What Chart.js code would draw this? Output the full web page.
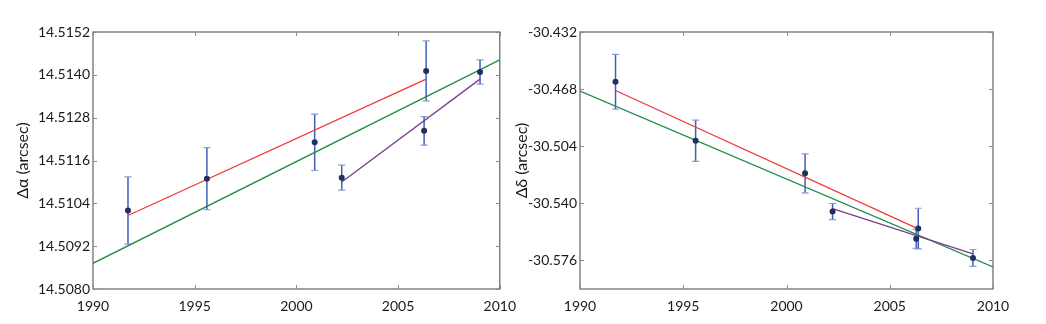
<!DOCTYPE html>
<html>
<head>
<meta charset="utf-8">
<script src="https://cdn.jsdelivr.net/npm/chart.js@4.4.0/dist/chart.umd.min.js"></script>
<style>
  html, body { margin: 0; padding: 0; background: #ffffff; }
  body { width: 1046px; height: 324px; position: relative; overflow: hidden; }
  .box { position: absolute; top: 0; height: 324px; }
  #leftBox { left: 0; width: 525px; }
  #rightBox { left: 505px; width: 541px; }
</style>
</head>
<body>
<div class="box" id="leftBox"><canvas id="raChart"></canvas></div>
<div class="box" id="rightBox"><canvas id="decChart"></canvas></div>
<script>
// ---- Data ----
const epochs      = [1991.72, 1995.60, 2000.90, 2002.23, 2006.28, 2006.38, 2009.03];
const raValues    = [14.51020, 14.51109, 14.51211, 14.51112, 14.51243, 14.51411, 14.51408];
const raErrors    = [0.00094, 0.00087, 0.00079, 0.00035, 0.00040, 0.00084, 0.00034];
const decValues   = [-30.4634, -30.5005, -30.5211, -30.5452, -30.5624, -30.5559, -30.5744];
const decErrors   = [0.0173, 0.0130, 0.0123, 0.0051, 0.0060, 0.0128, 0.0053];

const fitAllYears   = [1990, 2010];
const fitEarlyYears = [1991.72, 2006.38];
const fitLateYears  = [2002.23, 2009.03];
const raFitAll      = [14.50872, 14.51442];
const raFitEarly    = [14.51006, 14.51388];
const raFitLate     = [14.51100, 14.51388];
const decFitAll     = [-30.46926, -30.58003];
const decFitEarly   = [-30.46888, -30.55611];
const decFitLate    = [-30.54334, -30.57185];

const xTicks   = [1990, 1995, 2000, 2005, 2010];
const raTicks  = [14.5080, 14.5092, 14.5104, 14.5116, 14.5128, 14.5140, 14.5152];
const decTicks = [-30.576, -30.540, -30.504, -30.468, -30.432];

// ---- Helpers ----
const FONT = "Lato, 'Open Sans', sans-serif";
const pts = (xs, ys) => xs.map((x, i) => ({ x: x, y: ys[i] }));

const errorBarPlugin = {
  id: 'errorBars',
  beforeDatasetsDraw(chart, args, opts) {
    const { ctx, scales: { x, y } } = chart;
    const vals = opts.values, errs = opts.errors;
    ctx.save();
    for (let i = 0; i < vals.length; i++) {
      const px = x.getPixelForValue(opts.xs[i]);
      const top = y.getPixelForValue(vals[i] + errs[i]);
      const bot = y.getPixelForValue(vals[i] - errs[i]);
      ctx.strokeStyle = '#3f5fb7';
      ctx.lineWidth = 1.5;
      ctx.beginPath(); ctx.moveTo(px, top); ctx.lineTo(px, bot); ctx.stroke();
      ctx.strokeStyle = '#8699d4';
      ctx.lineWidth = 1.2;
      ctx.beginPath();
      ctx.moveTo(px - 3.5, top); ctx.lineTo(px + 3.5, top);
      ctx.moveTo(px - 3.5, bot); ctx.lineTo(px + 3.5, bot);
      ctx.stroke();
    }
    ctx.restore();
  }
};

const framePlugin = {
  id: 'frame',
  afterDraw(chart) {
    const { ctx, chartArea: a, scales: { x, y } } = chart;
    ctx.save();
    ctx.strokeStyle = '#707070';
    ctx.lineWidth = 1.3;
    ctx.strokeRect(a.left, a.top, a.right - a.left, a.bottom - a.top);
    ctx.lineWidth = 1;
    ctx.strokeStyle = '#8a8a8a';
    ctx.beginPath();
    const L = 4;
    x.ticks.forEach(t => {
      const px = Math.round(x.getPixelForValue(t.value)) + 0.5;
      ctx.moveTo(px, a.bottom); ctx.lineTo(px, a.bottom - L);
      ctx.moveTo(px, a.top); ctx.lineTo(px, a.top + L);
    });
    y.ticks.forEach(t => {
      const py = Math.round(y.getPixelForValue(t.value)) + 0.5;
      ctx.moveTo(a.left, py); ctx.lineTo(a.left + L, py);
      ctx.moveTo(a.right, py); ctx.lineTo(a.right - L, py);
    });
    ctx.stroke();
    ctx.restore();
  }
};

function makeChart(id, cfg) {
  return new Chart(document.getElementById(id), {
    type: 'scatter',
    data: {
      datasets: [
        { data: pts(epochs, cfg.values), pointRadius: 3, pointBackgroundColor: '#22305e',
          pointBorderColor: '#22305e', pointBorderWidth: 0, showLine: false },
        { data: pts(fitEarlyYears, cfg.fitEarly), showLine: true, borderColor: '#f23a3a',
          borderWidth: 1.3, pointRadius: 0 },
        { data: pts(fitLateYears, cfg.fitLate), showLine: true, borderColor: '#7a3f8c',
          borderWidth: 1.3, pointRadius: 0 },
        { data: pts(fitAllYears, cfg.fitAll), showLine: true, borderColor: '#1f8a48',
          borderWidth: 1.3, pointRadius: 0 }
      ]
    },
    options: {
      responsive: true,
      maintainAspectRatio: false,
      animation: false,
      layout: { padding: cfg.padding },
      plugins: {
        legend: { display: false },
        tooltip: { enabled: false },
        errorBars: { xs: epochs, values: cfg.values, errors: cfg.errors }
      },
      scales: {
        x: {
          type: 'linear', min: 1990, max: 2010,
          grid: { display: false, drawTicks: false }, border: { display: false },
          afterBuildTicks: s => { s.ticks = xTicks.map(v => ({ value: v })); },
          afterFit: s => { s.height = 35; },
          ticks: { color: '#1a1a1a', font: { family: FONT, size: 14 }, padding: 9,
                   maxRotation: 0, callback: v => String(v) }
        },
        y: {
          type: 'linear', min: cfg.min, max: cfg.max,
          grid: { display: false, drawTicks: false }, border: { display: false },
          afterBuildTicks: s => { s.ticks = cfg.ticks.map(v => ({ value: v })); },
          afterFit: s => { s.width = cfg.yWidth; },
          ticks: { color: '#1a1a1a', font: { family: FONT, size: 14 }, padding: 3,
                   callback: v => v.toFixed(cfg.decimals) },
          title: { display: true, text: cfg.title, color: '#1a1a1a',
                   font: { family: FONT, size: 16 }, padding: { top: cfg.titlePad, bottom: 0 } }
        }
      }
    },
    plugins: [errorBarPlugin, framePlugin]
  });
}

makeChart('raChart', {
  values: raValues, errors: raErrors,
  fitAll: raFitAll, fitEarly: raFitEarly, fitLate: raFitLate,
  min: 14.5080, max: 14.5152, ticks: raTicks, decimals: 4,
  title: 'Δα (arcsec)', titlePad: 13, yWidth: 93,
  padding: { left: 0, right: 20, top: 32, bottom: 0 }
});

makeChart('decChart', {
  values: decValues, errors: decErrors,
  fitAll: decFitAll, fitEarly: decFitEarly, fitLate: decFitLate,
  min: -30.594, max: -30.432, ticks: decTicks, decimals: 3,
  title: 'Δδ (arcsec)', titlePad: 7, yWidth: 75,
  padding: { left: 0, right: 53, top: 32, bottom: 0 }
});
</script>
</body>
</html>
